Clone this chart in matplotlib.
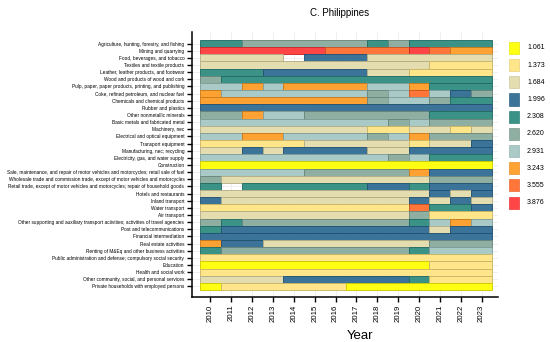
import numpy as np
import matplotlib
matplotlib.use('Agg')
import matplotlib.pyplot as plt
from matplotlib.colors import to_rgb

plt.rcParams['font.family'] = ['Liberation Sans', 'DejaVu Sans']

# === data ===
years = [str(y) for y in range(2010, 2024)]

industries = [
    'Agriculture, hunting, forestry, and fishing',
    'Mining and quarrying',
    'Food, beverages, and tobacco',
    'Textiles and textile products',
    'Leather, leather products, and footwear',
    'Wood and products of wood and cork',
    'Pulp, paper, paper products, printing, and publishing',
    'Coke, refined petroleum, and nuclear fuel',
    'Chemicals and chemical products',
    'Rubber and plastics',
    'Other nonmetallic minerals',
    'Basic metals and fabricated metal',
    'Machinery, nec',
    'Electrical and optical equipment',
    'Transport equipment',
    'Manufacturing, nec; recycling',
    'Electricity, gas, and water supply',
    'Construction',
    'Sale, maintenance, and repair of motor vehicles and motorcycles; retail sale of fuel',
    'Wholesale trade and commission trade, except of motor vehicles and motorcycles',
    'Retail trade, except of motor vehicles and motorcycles; repair of household goods',
    'Hotels and restaurants',
    'Inland transport',
    'Water transport',
    'Air transport',
    'Other supporting and auxiliary transport activities; activities of travel agencies',
    'Post and telecommunications',
    'Financial intermediation',
    'Real estate activities',
    'Renting of M&Eq and other business activities',
    'Public administration and defense; compulsory social security',
    'Education',
    'Health and social work',
    'Other community, social, and personal services',
    'Private households with employed persons',
]

levels = ['1.061', '1.373', '1.684', '1.996', '2.308', '2.620', '2.931', '3.243', '3.555', '3.876']
level_colors = ['#FFFF00', '#FFE480', '#E2DBAA', '#2B6891', '#2A8A7E',
                '#86A89B', '#A2C6C2', '#FF9A22', '#FF6A2A', '#FF3535']

# level index per year (None = missing)
agri      = [4, 4, 5, 5, 5, 5, 5, 5, 4, 5, 4, 4, 4, 4]
mining    = [9, 9, 9, 9, 9, 9, 8, 8, 8, 8, 9, 8, 7, 7]
food      = [2, 2, 2, 2, None, 3, 3, 3, 2, 2, 2, 2, 2, 2]
textiles  = [2, 2, 2, 2, 2, 2, 2, 2, 2, 2, 2, 1, 1, 1]
leather   = [4, 4, 4, 3, 3, 3, 3, 3, 2, 2, 1, 1, 1, 1]
wood      = [5, 4, 4, 4, 4, 4, 4, 4, 4, 4, 4, 4, 4, 4]
pulp      = [6, 6, 7, 6, 7, 7, 7, 7, 6, 6, 7, 4, 4, 4]
coke      = [7, 6, 6, 6, 6, 6, 6, 6, 5, 6, 8, 6, 3, 5]
chemicals = [7, 7, 7, 7, 7, 7, 7, 7, 5, 6, 6, 5, 4, 4]
rubber    = [3, 3, 3, 3, 3, 3, 3, 3, 3, 3, 3, 3, 3, 3]
nonmetal  = [5, 5, 7, 6, 6, 5, 5, 5, 5, 5, 5, 4, 4, 4]
metals    = [6, 6, 6, 6, 6, 6, 6, 6, 6, 5, 6, 5, 5, 5]
machinery = [2, 2, 2, 2, 2, 2, 2, 2, 1, 1, 2, 2, 1, 2]
electric  = [6, 6, 7, 7, 6, 6, 6, 6, 5, 6, 7, 5, 5, 5]
transport = [1, 1, 1, 1, 1, 2, 2, 2, 2, 2, 1, 2, 2, 3]
manuf_nec = [2, 2, 3, 2, 3, 3, 3, 3, 2, 2, 3, 3, 3, 3]
utilities = [6, 6, 6, 6, 6, 6, 6, 6, 6, 5, 6, 4, 4, 4]
construct = [0, 0, 0, 0, 0, 0, 0, 0, 0, 0, 0, 0, 0, 0]
sale      = [6, 6, 6, 6, 6, 5, 5, 5, 5, 5, 7, 3, 3, 3]
wholesale = [5, 2, 2, 2, 2, 2, 2, 2, 2, 2, 2, 5, 5, 5]
retail    = [4, None, 4, 4, 4, 4, 4, 4, 3, 3, 4, 3, 3, 3]
hotels    = [2, 2, 2, 2, 2, 2, 2, 2, 2, 2, 2, 3, 2, 3]
inland    = [3, 2, 2, 2, 2, 2, 2, 2, 2, 2, 3, 2, 3, 2]
water     = [1, 1, 1, 1, 1, 1, 1, 1, 1, 1, 8, 4, 4, 3]
air       = [2, 2, 2, 2, 2, 2, 2, 2, 2, 2, 5, 1, 1, 1]
supporting = [5, 4, 5, 5, 5, 5, 5, 5, 5, 5, 4, 6, 7, 6]
post      = [4, 3, 3, 3, 3, 3, 3, 3, 3, 3, 3, 2, 3, 3]
financial = [3, 3, 3, 3, 3, 3, 3, 3, 3, 3, 3, 3, 3, 3]
realestate = [7, 3, 3, 2, 2, 2, 2, 2, 2, 2, 2, 5, 5, 5]
renting   = [4, 5, 5, 5, 5, 5, 5, 5, 5, 5, 4, 6, 6, 6]
publicadm = [1, 1, 1, 1, 1, 1, 1, 1, 1, 1, 1, 1, 1, 1]
education = [0, 0, 0, 0, 0, 0, 0, 0, 0, 0, 0, 1, 1, 1]
health    = [1, 1, 1, 1, 1, 1, 1, 1, 1, 1, 1, 1, 1, 1]
community = [2, 2, 2, 2, 3, 3, 3, 3, 3, 3, 4, 1, 1, 1]
households = [0, 1, 1, 1, 1, 1, 1, 0, 0, 0, 0, 0, 0, 0]

rows = [agri, mining, food, textiles, leather, wood, pulp, coke, chemicals, rubber,
        nonmetal, metals, machinery, electric, transport, manuf_nec, utilities, construct,
        sale, wholesale, retail, hotels, inland, water, air, supporting, post, financial,
        realestate, renting, publicadm, education, health, community, households]


def darker(c, f=0.8):
    r, g, b = to_rgb(c)
    return (r * f, g * f, b * f)


# === plot ===
fig = plt.figure(figsize=(5.5, 3.42), dpi=100)
ax = fig.add_axes([192 / 550, 1 - 297 / 342, 306 / 550, 265 / 342])

# draw each run of equal values as one bar
for i, row in enumerate(rows):
    j = 0
    while j < len(row):
        k = j
        while k + 1 < len(row) and row[k + 1] == row[j]:
            k += 1
        if row[j] is not None:
            c = level_colors[row[j]]
            ax.barh(i, k - j + 1, left=j - 0.5, height=1,
                    color=c, alpha=0.92, edgecolor=darker(c), linewidth=0.7, zorder=2)
        j = k + 1

ax.set_xlim(-0.88, 13.79)
ax.set_ylim(35.48, -1.62)
ax.set_xticks(range(len(years)))
ax.set_xticklabels(years, rotation=90, fontsize=5.6)
ax.set_yticks(range(len(industries)))
ax.set_yticklabels(industries, fontsize=3.45)
ax.tick_params(axis='both', length=3.5, width=1.0, pad=2)
ax.grid(color='#ececec', linewidth=0.6, zorder=0)
ax.set_axisbelow(True)
for s in ['top', 'right']:
    ax.spines[s].set_visible(False)
for s in ['left', 'bottom']:
    ax.spines[s].set_linewidth(1.1)

ax.set_xlabel('Year', fontsize=9.5)
ax.xaxis.set_label_coords(0.55, -0.125)

fig.text(0.618, 0.962, 'C. Philippines', ha='center', va='center', fontsize=7)

# legend as separate axes
lax = fig.add_axes([500 / 550, 1 - 212 / 342, 50 / 550, 174 / 342])
lax.set_xlim(0, 50)
lax.set_ylim(9.55, -0.58)
lax.axis('off')
for i, (lab, c) in enumerate(zip(levels, level_colors)):
    lax.barh(i, 10, left=9, height=0.7, color=c, alpha=0.92, edgecolor=darker(c, 0.9), linewidth=0.5)
    lax.text(27, i, lab, va='center', ha='left', fontsize=5)

fig.savefig('out.png', dpi=100)
